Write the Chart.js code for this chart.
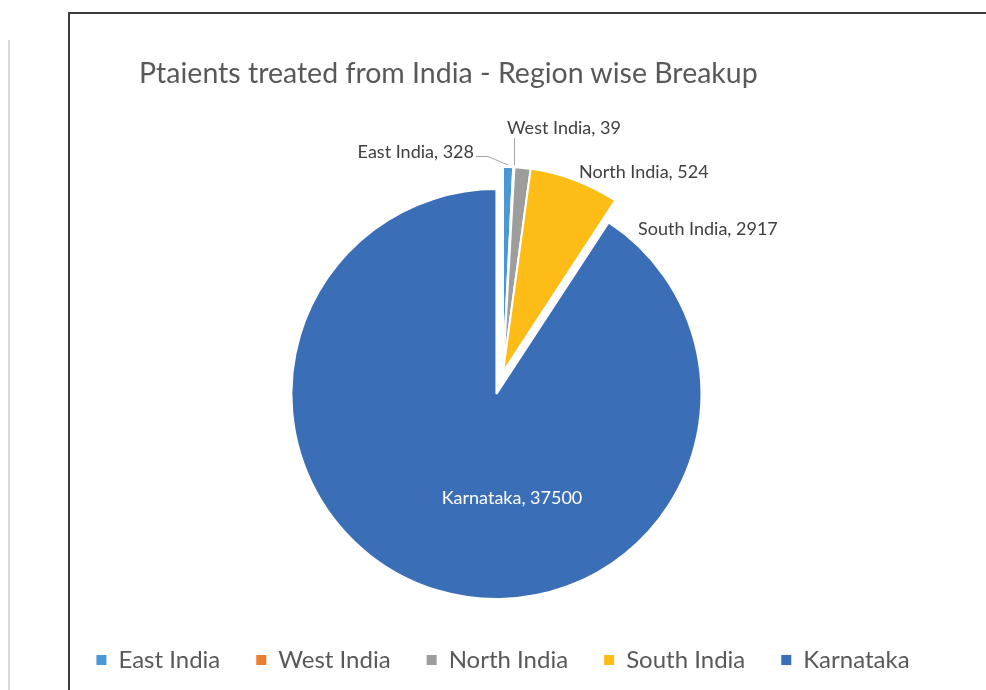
<!DOCTYPE html>
<html>
<head>
<meta charset="utf-8">
<script src="https://cdn.jsdelivr.net/npm/chart.js@4.4.1/dist/chart.umd.min.js"></script>
<style>
  html, body { margin: 0; padding: 0; background: #fff; }
  body { width: 986px; height: 690px; position: relative; overflow: hidden; }
  #chartBox { position: absolute; left: 0; top: 0; width: 986px; height: 690px; }
  #sideLine { position: absolute; left: 8px; top: 40px; width: 2px; height: 650px; background: #dadada; }
  #frame { position: absolute; left: 68px; top: 12px; width: 918px; height: 678px;
           border-left: 2px solid #3c3c3c; border-top: 2px solid #3c3c3c; box-sizing: border-box; }
  #title { position: absolute; left: 139px; top: 55px; font-family: Lato, sans-serif;
           font-size: 28.5px; line-height: 34px; color: #595959; white-space: nowrap; }
</style>
</head>
<body>
<div id="chartBox"><canvas id="pieChart"></canvas></div>
<div id="sideLine"></div>
<div id="frame"></div>
<div id="title">Ptaients treated from India - Region wise Breakup</div>
<script>
  // data
  const regions = ["East India", "West India", "North India", "South India", "Karnataka"];
  const patients = [328, 39, 524, 2917, 37500];

  // styling
  const sliceColors = ["#4a97d6", "#ef7d31", "#9d9d9d", "#fdbd16", "#3a6eb6"];
  const explode = [0, 0, 0, 0, 23];  // px pulled out along the slice middle
  // label placement relative to the pie centre
  const labelPlacement = [
    { dx: -29, dy: -220, align: "right", color: "#404040", leader: "elbow" },
    { dx: 4, dy: -244, align: "left", color: "#404040", leader: "vertical" },
    { dx: 76, dy: -200, align: "left", color: "#404040", leader: null },
    { dx: 135, dy: -143, align: "left", color: "#404040", leader: null },
    { dx: 9, dy: 126, align: "center", color: "#ffffff", leader: null }
  ];
  const font = "Lato";

  const explodePlugin = {
    id: "explode",
    afterDatasetUpdate(chart, args) {
      args.meta.data.forEach((arc, i) => {
        const d = explode[i] || 0;
        if (!d) return;
        const mid = (arc.startAngle + arc.endAngle) / 2;
        arc.x += Math.cos(mid) * d;
        arc.y += Math.sin(mid) * d;
      });
    }
  };

  const labelPlugin = {
    id: "sliceLabels",
    afterDatasetsDraw(chart) {
      const ctx = chart.ctx;
      const area = chart.chartArea;
      const cx = (area.left + area.right) / 2;
      const cy = (area.top + area.bottom) / 2;
      const arcs = chart.getDatasetMeta(0).data;
      ctx.save();
      ctx.font = "18px " + font;
      ctx.textBaseline = "middle";
      arcs.forEach((arc, i) => {
        const p = labelPlacement[i];
        const text = regions[i] + ", " + patients[i];
        const tx = cx + p.dx, ty = cy + p.dy;
        ctx.fillStyle = p.color;
        ctx.textAlign = p.align;
        ctx.fillText(text, tx, ty);

        if (!p.leader) return;
        const mid = (arc.startAngle + arc.endAngle) / 2;
        const ex = arc.x + Math.cos(mid) * (arc.outerRadius + 2);
        const ey = arc.y + Math.sin(mid) * (arc.outerRadius + 2);
        ctx.strokeStyle = "#a6a6a6";
        ctx.lineWidth = 1;
        ctx.beginPath();
        if (p.leader === "elbow") {
          ctx.moveTo(tx + 2, ty + 4.5);
          ctx.lineTo(tx + 14, ty + 4.5);
          ctx.lineTo(ex, ey);
        } else {
          ctx.moveTo(Math.round(ex) + 0.5, ty + 10);
          ctx.lineTo(Math.round(ex) + 0.5, ey);
        }
        ctx.stroke();
      });
      ctx.restore();
    }
  };

  new Chart(document.getElementById("pieChart"), {
    type: "pie",
    data: {
      labels: regions,
      datasets: [{
        data: patients,
        backgroundColor: sliceColors,
        borderColor: "#ffffff",
        borderWidth: 2
      }]
    },
    options: {
      responsive: true,
      maintainAspectRatio: false,
      animation: false,
      radius: 205,
      layout: { padding: { left: 20, right: 0, top: 132, bottom: 8 } },
      plugins: {
        legend: {
          position: "bottom",
          labels: {
            boxWidth: 10,
            boxHeight: 10,
            padding: 36,
            color: "#595959",
            font: { family: font, size: 24 },
            generateLabels: () => regions.map((r, i) => ({
              text: r,
              fillStyle: sliceColors[i],
              strokeStyle: sliceColors[i],
              lineWidth: 0,
              fontColor: "#595959",
              hidden: false,
              index: i
            }))
          }
        },
        tooltip: { enabled: false }
      }
    },
    plugins: [explodePlugin, labelPlugin]
  });
</script>
</body>
</html>
